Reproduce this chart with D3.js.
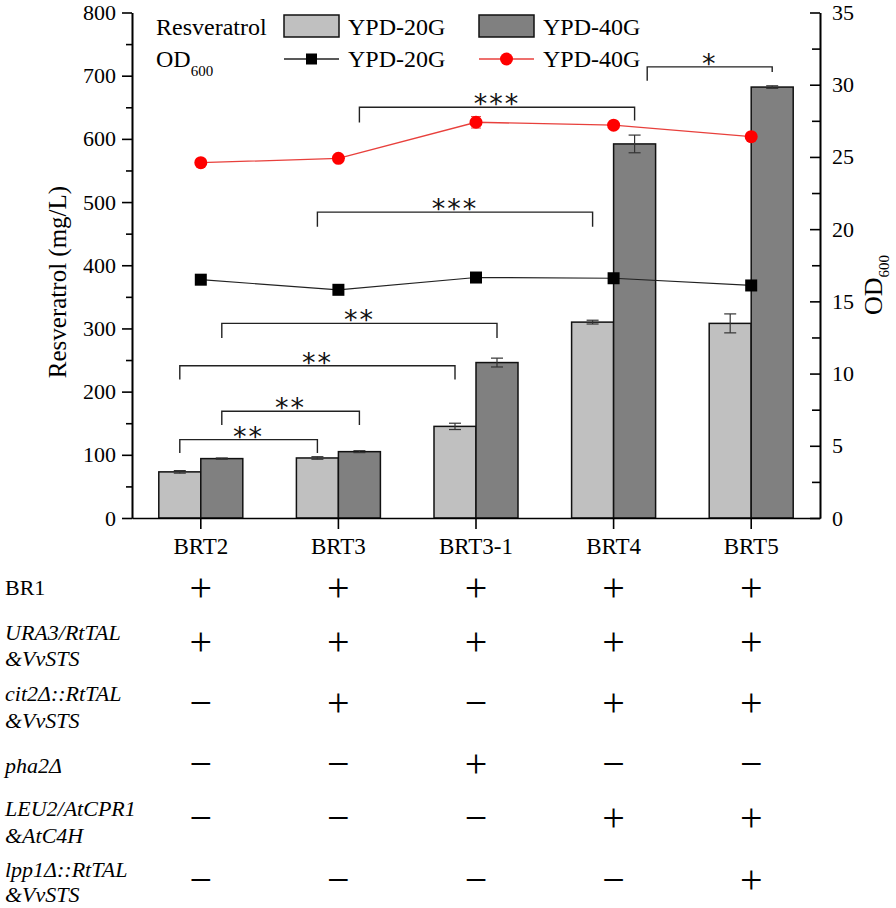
<!DOCTYPE html>
<html><head><meta charset="utf-8">
<script src="https://cdn.jsdelivr.net/npm/d3@7"></script>
<style>
html,body{margin:0;padding:0;background:#fff;}
svg{display:block;font-family:"Liberation Serif","Times New Roman",serif;}
</style></head>
<body>
<svg id="chart" width="896" height="908"></svg>
<script>
// ---------- data ----------
const categories = ["BRT2", "BRT3", "BRT3-1", "BRT4", "BRT5"];
const seriesNames = ["YPD-20G", "YPD-40G"];
const res20 = [73, 95, 145, 310, 308];
const res20Err = [2, 2, 5, 3, 15];
const res40 = [94, 105, 246, 592, 682];
const res40Err = [1, 1.5, 7, 14, 2];
const od20 = [16.5, 15.8, 16.65, 16.6, 16.1];
const od40 = [24.6, 24.9, 27.4, 27.2, 26.4];
const od40Err = [0, 0, 0.4, 0, 0];
const leftTicks = [0, 100, 200, 300, 400, 500, 600, 700, 800];
const leftMinor = [50, 150, 250, 350, 450, 550, 650, 750];
const rightTicks = [0, 5, 10, 15, 20, 25, 30, 35];
const rightMinor = [2.5, 7.5, 12.5, 17.5, 22.5, 27.5, 32.5];
// significance brackets: [fromCat, fromSeriesPos, toCat, toSeriesPos, level (mg/L), leftEnd, rightEnd, label]
const brackets = [
  [0, 0, 1, 0, 124, 103, 103, "**"],
  [0, 1, 1, 1, 169, 147, 147, "**"],
  [0, 0, 2, 0, 241, 219, 219, "**"],
  [0, 1, 2, 1, 308, 285, 285, "**"],
  [1, 0, 3, 0, 484, 461, 461, "***"],
  [1, 1, 3, 1, 650, 626, 629, "***"],
  [3, 1.3, 4, 1, 714, 692, 706, "*"]
];
// genotype table
const rowLabels = [
  ["BR1"],
  ["URA3/RtTAL", "&VvSTS"],
  ["cit2Δ::RtTAL", "&VvSTS"],
  ["pha2Δ"],
  ["LEU2/AtCPR1", "&AtC4H"],
  ["lpp1Δ::RtTAL", "&VvSTS"]
];
const rowItalic = [false, true, true, true, true, true];
const genotype = [
  ["+", "+", "+", "+", "+"],
  ["+", "+", "+", "+", "+"],
  ["−", "+", "−", "+", "+"],
  ["−", "−", "+", "−", "−"],
  ["−", "−", "−", "+", "+"],
  ["−", "−", "−", "−", "+"]
];

// ---------- layout ----------
const svg = d3.select("#chart");
const L = 132, R = 820, T = 12.5, B = 518;
const x = d3.scaleBand().domain(categories).range([L, R]).padding(0);
const barW = 42;
const sub = d3.scaleBand().domain([0, 1]).range([-barW, barW]);
const y = d3.scaleLinear().domain([0, 800]).range([B, T]);
const y2 = d3.scaleLinear().domain([0, 35]).range([B, T]);
const cx = (i) => x(categories[i]) + x.bandwidth() / 2;
const sx = (i, s) => cx(i) - barW + barW * (s + 0.5);
const colors = ["#c0c0c0", "#808080"];

// bars
const resVals = [res20, res40];
const resErrs = [res20Err, res40Err];
[0, 1].forEach(s => {
  svg.append("g").selectAll("rect").data(categories).join("rect")
    .attr("x", (d) => x(d) + x.bandwidth() / 2 + sub(s))
    .attr("width", sub.bandwidth())
    .attr("y", (d, i) => y(resVals[s][i]))
    .attr("height", (d, i) => B - y(resVals[s][i]))
    .attr("fill", colors[s]).attr("stroke", "#111").attr("stroke-width", 1.5);
  const eg = svg.append("g").attr("stroke", "#333").attr("stroke-width", 1.2);
  categories.forEach((d, i) => {
    const xc = sx(i, s), v = resVals[s][i], e = resErrs[s][i];
    eg.append("line").attr("x1", xc).attr("x2", xc).attr("y1", y(v - e)).attr("y2", y(v + e));
    eg.append("line").attr("x1", xc - 6).attr("x2", xc + 6).attr("y1", y(v + e)).attr("y2", y(v + e));
    eg.append("line").attr("x1", xc - 6).attr("x2", xc + 6).attr("y1", y(v - e)).attr("y2", y(v - e));
  });
});

// OD lines
const line20 = d3.line().x((d, i) => cx(i)).y(d => y2(d));
svg.append("path").datum(od20).attr("d", line20).attr("fill", "none").attr("stroke", "#222").attr("stroke-width", 1.2);
svg.append("g").selectAll("rect").data(od20).join("rect")
  .attr("x", (d, i) => cx(i) - 6).attr("y", d => y2(d) - 6).attr("width", 12).attr("height", 12).attr("fill", "#000");
svg.append("path").datum(od40).attr("d", line20).attr("fill", "none").attr("stroke", "#e8403c").attr("stroke-width", 1.3);
const rg = svg.append("g").attr("stroke", "#e05050").attr("stroke-width", 1);
od40.forEach((v, i) => {
  if (od40Err[i] > 0) {
    rg.append("line").attr("x1", cx(i) - 5).attr("x2", cx(i) + 5).attr("y1", y2(v + od40Err[i])).attr("y2", y2(v + od40Err[i]));
    rg.append("line").attr("x1", cx(i) - 5).attr("x2", cx(i) + 5).attr("y1", y2(v - od40Err[i])).attr("y2", y2(v - od40Err[i]));
  }
});
svg.append("g").selectAll("circle").data(od40).join("circle")
  .attr("cx", (d, i) => cx(i)).attr("cy", d => y2(d)).attr("r", 6.5).attr("fill", "#ff0000");

// brackets
const bg = svg.append("g");
brackets.forEach(b => {
  const x1 = sx(b[0], b[1]), x2 = sx(b[2], b[3]);
  bg.append("path")
    .attr("d", `M${x1},${y(b[5])}V${y(b[4])}H${x2}V${y(b[6])}`)
    .attr("fill", "none").attr("stroke", "#222").attr("stroke-width", 1.4);
  bg.append("text").attr("x", (x1 + x2) / 2).attr("y", y(b[4]) + 6)
    .attr("text-anchor", "middle").attr("font-family", "DejaVu Sans").attr("font-size", 27)
    .attr("letter-spacing", 2).attr("fill", "#111").text(b[7]);
});

// axes
const axisStyle = g => {
  g.selectAll("path,line").attr("stroke", "#000").attr("stroke-width", 1.6);
  g.selectAll("text").attr("font-family", "Liberation Serif").attr("font-size", 22).attr("fill", "#000");
};
svg.append("g").attr("transform", `translate(${L},0)`)
  .call(d3.axisLeft(y).tickValues(leftTicks).tickSize(10).tickSizeOuter(0).tickPadding(6).tickFormat(d3.format("d")))
  .call(axisStyle);
svg.append("g").attr("transform", `translate(${L},0)`)
  .call(d3.axisLeft(y).tickValues(leftMinor).tickSize(6).tickSizeOuter(0).tickFormat(""))
  .call(axisStyle);
svg.append("g").attr("transform", `translate(${R},0)`)
  .call(d3.axisRight(y2).tickValues(rightTicks).tickSize(-10).tickSizeOuter(0).tickPadding(12).tickFormat(d3.format("d")))
  .call(axisStyle);
svg.append("g").attr("transform", `translate(${R},0)`)
  .call(d3.axisRight(y2).tickValues(rightMinor).tickSize(-8).tickSizeOuter(0).tickFormat(""))
  .call(axisStyle);
const xa = svg.append("g").attr("transform", `translate(0,${B})`)
  .call(d3.axisBottom(x).tickSize(11).tickSizeOuter(0).tickPadding(9))
  .call(axisStyle);
xa.selectAll("text").attr("font-size", 23);

// axis titles
svg.append("text").attr("transform", `translate(66,282) rotate(-90)`)
  .attr("text-anchor", "middle").attr("font-size", 25).text("Resveratrol (mg/L)");
const rt = svg.append("text").attr("transform", `translate(882,285) rotate(-90)`)
  .attr("text-anchor", "middle").attr("font-size", 26);
rt.append("tspan").text("OD");
rt.append("tspan").attr("dy", 7).attr("font-size", 15).text("600");

// legend
const lg = svg.append("g").attr("font-size", 24);
lg.append("text").attr("x", 156).attr("y", 35).text("Resveratrol");
const odl = lg.append("text").attr("x", 156).attr("y", 67);
odl.append("tspan").text("OD");
odl.append("tspan").attr("dy", 9).attr("font-size", 15).text("600");
const legX = [284, 479];
seriesNames.forEach((n, s) => {
  lg.append("rect").attr("x", legX[s]).attr("y", 15).attr("width", 55).attr("height", 22)
    .attr("fill", colors[s]).attr("stroke", "#111").attr("stroke-width", 1.5);
  lg.append("text").attr("x", legX[s] + 64).attr("y", 35).text(n);
  lg.append("line").attr("x1", legX[s]).attr("x2", legX[s] + 55).attr("y1", 59).attr("y2", 59)
    .attr("stroke", s ? "#e8403c" : "#222").attr("stroke-width", 1.3);
  if (s === 0) {
    lg.append("rect").attr("x", legX[s] + 27.5 - 5.5).attr("y", 53.5).attr("width", 11).attr("height", 11).attr("fill", "#000");
  } else {
    lg.append("circle").attr("cx", legX[s] + 27.5).attr("cy", 59).attr("r", 6.5).attr("fill", "#ff0000");
  }
  lg.append("text").attr("x", legX[s] + 64).attr("y", 67).text(n);
});

// genotype table
const rowBase = [[595], [640, 666], [701, 728], [773], [816, 843], [877, 902]];
const symY = [588, 642, 703, 764, 818, 880];
const tg = svg.append("g").attr("font-size", 22);
rowLabels.forEach((lines, r) => {
  lines.forEach((t, k) => {
    tg.append("text").attr("x", 5).attr("y", rowBase[r][k])
      .attr("font-style", rowItalic[r] ? "italic" : "normal").text(t);
  });
  genotype[r].forEach((g, i) => {
    tg.append("text").attr("x", cx(i)).attr("y", symY[r]).attr("dy", "0.32em")
      .attr("text-anchor", "middle").attr("font-size", 40).text(g);
  });
});
</script>
</body></html>
